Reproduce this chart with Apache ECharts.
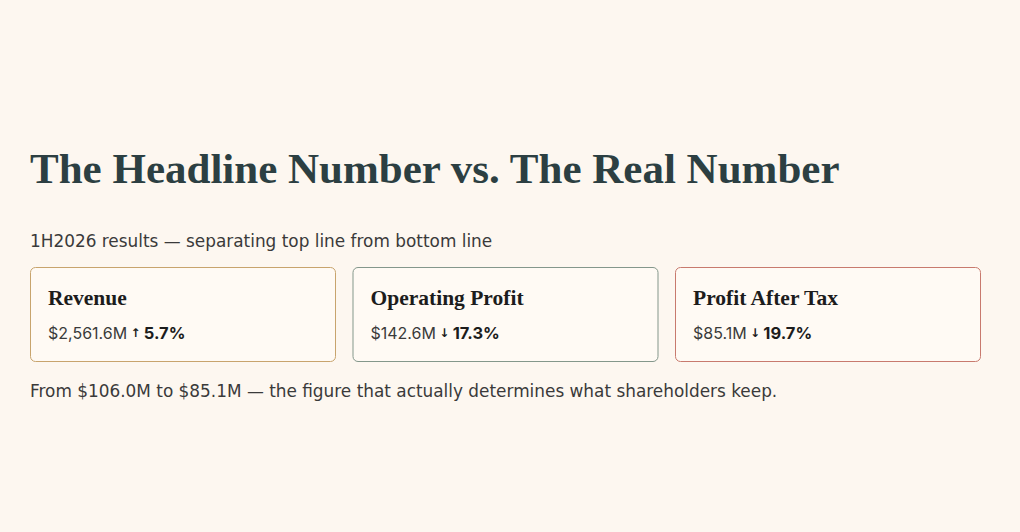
<!DOCTYPE html>
<html><head><meta charset="utf-8">
<script src="https://cdn.jsdelivr.net/npm/echarts@6/dist/echarts.min.js"></script>
<style>html,body{margin:0;padding:0;background:#fdf7f0;} #chart{width:1020px;height:532px;}</style>
</head><body><div id="chart"></div>
<script>
const titleText = 'The Headline Number vs. The Real Number';
const subtitleText = '1H2026 results — separating top line from bottom line';
const footnoteText = 'From $106.0M to $85.1M — the figure that actually determines what shareholders keep.';
const metrics = ['Revenue', 'Operating Profit', 'Profit After Tax'];
const values = [2561.6, 142.6, 85.1];      // $M, 1H2026
const changes = [5.7, -17.3, -19.7];       // % change vs prior period

const SERIF = '"Liberation Serif", "DejaVu Serif", serif';
const SANS = 'Inter, "Noto Sans", sans-serif';
const WIDE = '"DejaVu Sans", Inter, sans-serif';
const borderColors = ['#c8a46d', '#84978b', '#c87a6e'];

function fmtMoney(v) {
  return '$' + v.toLocaleString('en-US', {minimumFractionDigits: 1, maximumFractionDigits: 1}) + 'M';
}

const chart = echarts.init(document.getElementById('chart'), null, {renderer: 'svg'});
chart.setOption({
  backgroundColor: '#fdf7f0',
  animation: false,
  grid: {left: 21.75, right: 30.75, top: 267, bottom: 170},
  xAxis: {type: 'category', data: metrics, show: false, boundaryGap: true},
  yAxis: {type: 'value', min: 0, max: 1, show: false},
  graphic: [
    {type: 'text', x: 30, y: 168, style: {text: titleText, font: 'bold 43px ' + SERIF, fill: '#2c3f42', verticalAlign: 'middle'}},
    {type: 'text', x: 30, y: 241, style: {text: subtitleText, font: '16.9px ' + WIDE, fill: '#3a3a3a', verticalAlign: 'middle'}},
    {type: 'text', x: 30, y: 390.5, style: {text: footnoteText, font: '16.9px ' + WIDE, fill: '#3a3a3a', verticalAlign: 'middle'}}
  ],
  series: [{
    type: 'custom',
    data: metrics.map((m, i) => [i, values[i], changes[i]]),
    renderItem: function (params, api) {
      const i = api.value(0);
      const cx = api.coord([i, 0])[0];
      const band = api.size([1, 0])[0];
      const w = band - 16.5;
      const cs = params.coordSys;
      const x = cx - w / 2;
      const ch = api.value(2);
      const arrow = ch >= 0 ? '↑' : '↓';
      return {
        type: 'group',
        children: [
          {type: 'rect', shape: {x: x + 0.5, y: cs.y + 0.5, width: w - 1, height: cs.height - 1, r: 5},
           style: {fill: '#fffaf4', stroke: borderColors[i], lineWidth: 1}},
          {type: 'text', x: x + 18, y: cs.y + 30.5,
           style: {text: metrics[i], font: 'bold 21.5px ' + SERIF, fill: '#1c1c1c', verticalAlign: 'middle'}},
          {type: 'text', x: x + 18, y: cs.y + 66,
           style: {
             text: '{v|' + fmtMoney(api.value(1)) + '} {a|' + arrow + '} {p|' + Math.abs(ch).toFixed(1) + '%}',
             verticalAlign: 'middle',
             rich: {
               v: {fontFamily: SANS, fontSize: 16, fill: '#3a3a3a'},
               a: {fontFamily: '"DejaVu Sans", sans-serif', fontSize: 12, fontWeight: 'bold', fill: '#1c1c1c'},
               p: {fontFamily: SANS, fontSize: 16.5, fontWeight: 'bold', fill: '#1c1c1c'}
             }
           }}
        ]
      };
    }
  }]
});
</script>
</body></html>
